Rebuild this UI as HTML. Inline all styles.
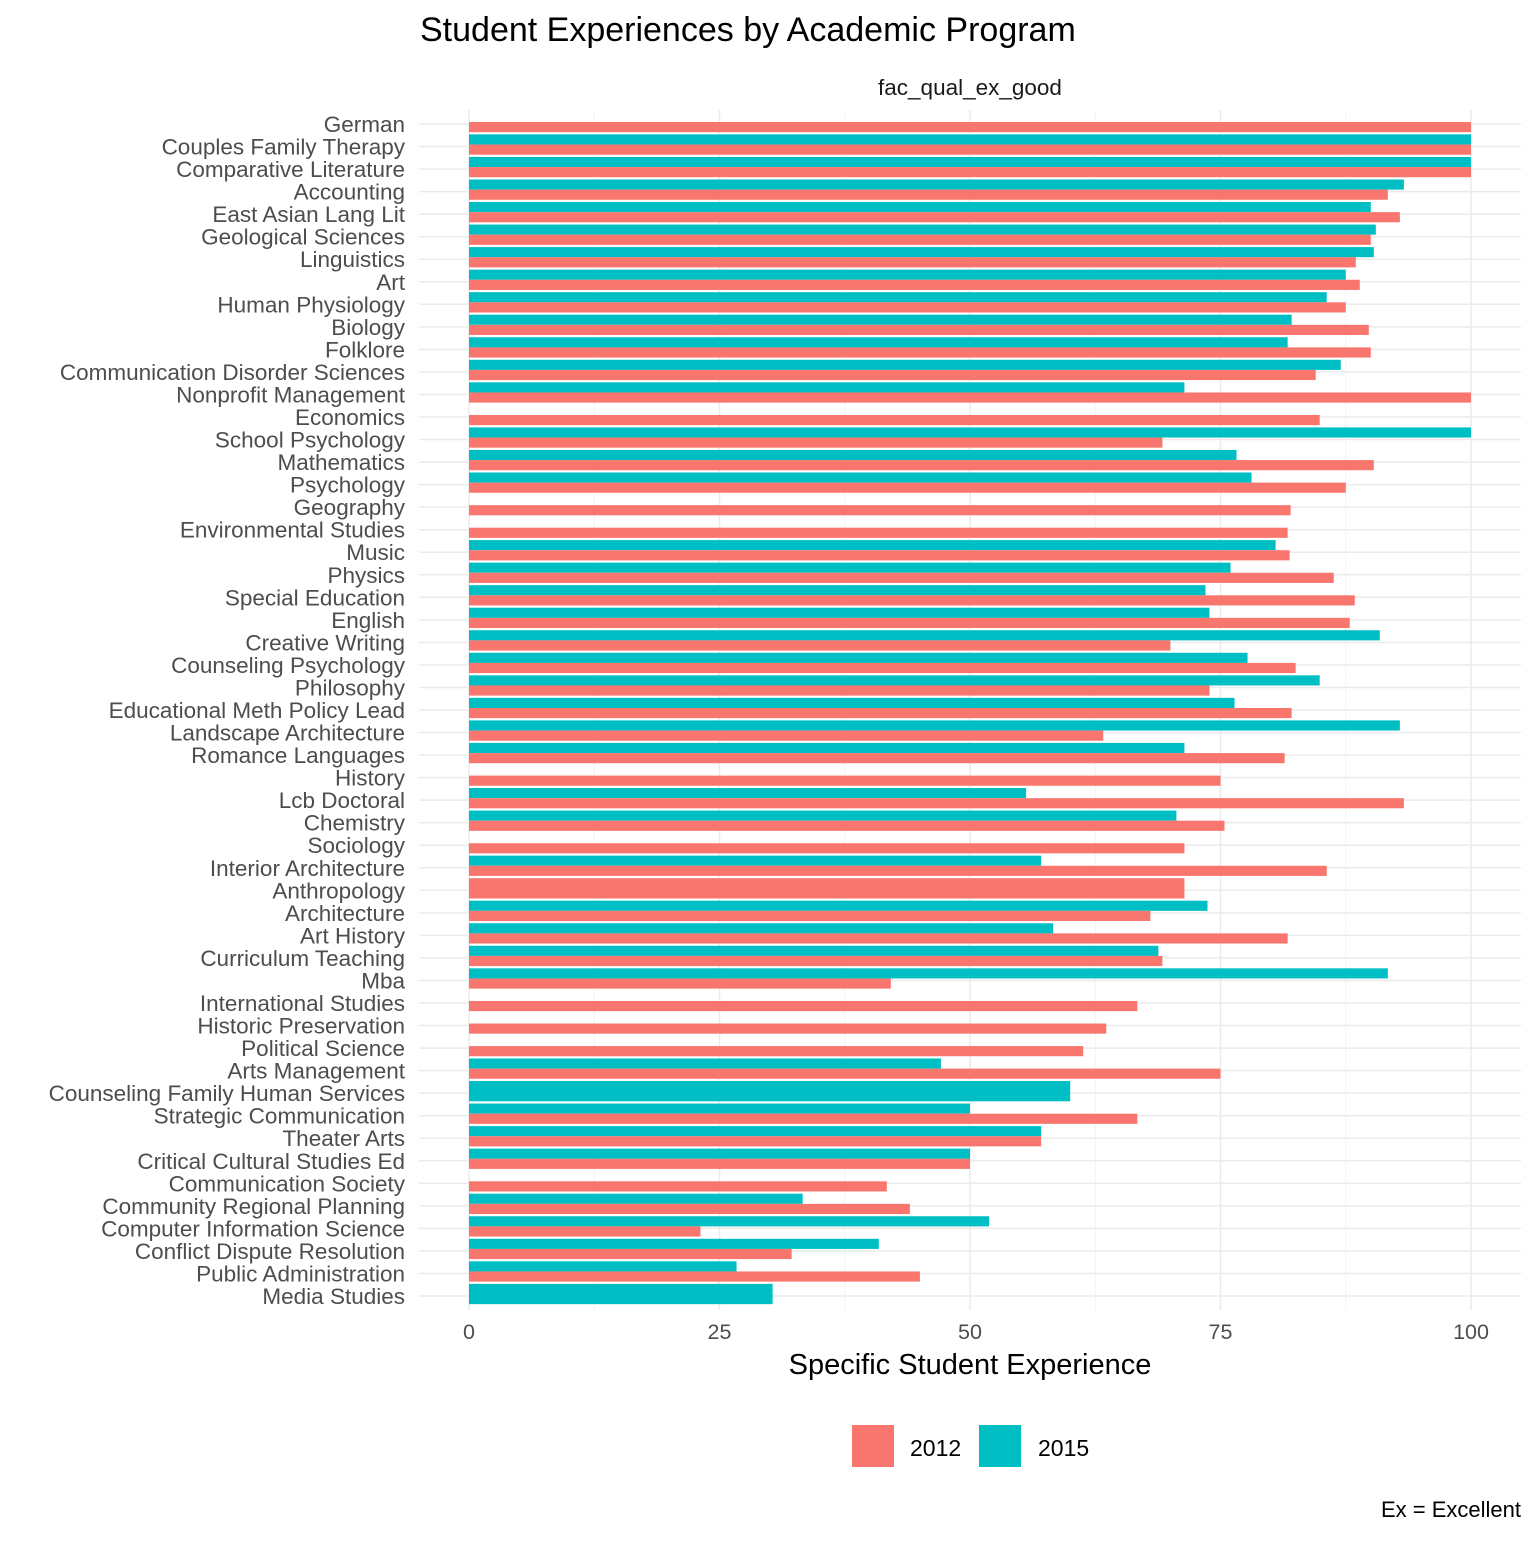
<!DOCTYPE html>
<html><head><meta charset="utf-8"><style>
html,body{margin:0;padding:0;background:#fff;}
svg text{font-family:"Liberation Sans",Arial,sans-serif;}
</style></head><body>
<svg id="chart" width="1536" height="1536" viewBox="0 0 1536 1536" xmlns="http://www.w3.org/2000/svg">
<text x="420" y="41" font-size="34" fill="#000">Student Experiences by Academic Program</text>
<text x="970" y="95" font-size="22.5" fill="#1a1a1a" text-anchor="middle">fac_qual_ex_good</text>
<g id="grid"></g><g id="bars"></g><g id="ylabels"></g><g id="xticks"></g>
<text x="970" y="1374" font-size="29" fill="#000" text-anchor="middle">Specific Student Experience</text>
<rect x="852" y="1425" width="42" height="42" fill="#F8766D"/>
<text x="910" y="1456" font-size="23" fill="#000">2012</text>
<rect x="979" y="1425" width="42" height="42" fill="#00BFC4"/>
<text x="1038" y="1456" font-size="23" fill="#000">2015</text>
<text x="1521" y="1517" font-size="22" fill="#000" text-anchor="end">Ex = Excellent</text>
</svg>
<script>
const categories = ["German","Couples Family Therapy","Comparative Literature","Accounting","East Asian Lang Lit","Geological Sciences","Linguistics","Art","Human Physiology","Biology","Folklore","Communication Disorder Sciences","Nonprofit Management","Economics","School Psychology","Mathematics","Psychology","Geography","Environmental Studies","Music","Physics","Special Education","English","Creative Writing","Counseling Psychology","Philosophy","Educational Meth Policy Lead","Landscape Architecture","Romance Languages","History","Lcb Doctoral","Chemistry","Sociology","Interior Architecture","Anthropology","Architecture","Art History","Curriculum Teaching","Mba","International Studies","Historic Preservation","Political Science","Arts Management","Counseling Family Human Services","Strategic Communication","Theater Arts","Critical Cultural Studies Ed","Communication Society","Community Regional Planning","Computer Information Science","Conflict Dispute Resolution","Public Administration","Media Studies"];
// NaN = row present but no value (half slot); null = row absent (other bar fills full width)
const values2012 = [100,100,100,91.7,92.9,90.0,88.5,88.9,87.5,89.8,90.0,84.5,100,84.9,69.2,90.3,87.5,82.0,81.7,81.9,86.3,88.4,87.9,70.0,82.5,73.9,82.1,63.3,81.4,75.0,93.3,75.4,71.4,85.6,71.4,68.0,81.7,69.2,42.1,66.7,63.6,61.3,75.0,null,66.7,57.1,50,41.7,44.0,23.1,32.2,45.0,null];
const values2015 = [NaN,100,100,93.3,90.0,90.5,90.3,87.5,85.6,82.1,81.7,87.0,71.4,NaN,100,76.6,78.1,NaN,NaN,80.5,76.0,73.5,73.9,90.9,77.7,84.9,76.4,92.9,71.4,NaN,55.6,70.6,NaN,57.1,null,73.7,58.3,68.8,91.7,NaN,NaN,NaN,47.1,60.0,50.0,57.1,50,NaN,33.3,51.9,40.9,26.7,30.3];
const xTicks = [0,25,50,75,100];
const xMinorTicks = [12.5,37.5,62.5,87.5];

const NS="http://www.w3.org/2000/svg";
const x = v => 469 + v*10.02;
const yTop = 124, yStep = (1296-124)/(categories.length-1);
const y = i => yTop + i*yStep;
const bandH = yStep*0.9;
function mk(tag, attrs, parent){const e=document.createElementNS(NS,tag);for(const k in attrs)e.setAttribute(k,attrs[k]);parent.appendChild(e);return e;}
const grid=document.getElementById('grid'), bars=document.getElementById('bars'), yl=document.getElementById('ylabels'), xt=document.getElementById('xticks');
const pTop=110, pBot=1310;
xMinorTicks.forEach(t=>{const l=mk('line',{x1:x(t),x2:x(t),y1:pTop,y2:pBot,stroke:'#f2f2f2','stroke-width':1},grid);

});
xTicks.forEach(t=>{const l=mk('line',{x1:x(t),x2:x(t),y1:pTop,y2:pBot,stroke:'#ebebeb','stroke-width':1.5},grid);


const tx=mk('text',{x:x(t),y:1339,'font-size':21.5,fill:'#4d4d4d','text-anchor':'middle'},xt);tx.textContent=t;

});
categories.forEach((c,i)=>{
  const cy=y(i);
  const g=mk('line',{x1:419,x2:1521,y1:cy,y2:cy,stroke:'#ebebeb','stroke-width':1.5},grid);
  
  
  const t=mk('text',{x:405,y:cy+8,'font-size':22.5,fill:'#4d4d4d','text-anchor':'end'},yl);t.textContent=c;
  
  
  const a=values2012[i], b=values2015[i];
  const top=cy-bandH/2-2, half=bandH/2;
  if(b===null && a!==null && !isNaN(a)){
    const r=mk('rect',{x:x(0),y:top,width:x(a)-x(0),height:bandH,fill:'#F8766D'},bars);
    
    
  } else if(a===null && b!==null && !isNaN(b)){
    const r=mk('rect',{x:x(0),y:top,width:x(b)-x(0),height:bandH,fill:'#00BFC4'},bars);
    
    
  } else {
    if(b!==null && !isNaN(b)){const r=mk('rect',{x:x(0),y:top,width:x(b)-x(0),height:half,fill:'#00BFC4'},bars);
      
      }
    if(a!==null && !isNaN(a)){const r=mk('rect',{x:x(0),y:top+half,width:x(a)-x(0),height:half,fill:'#F8766D'},bars);
      
      }
  }
});
</script>
</body></html>
